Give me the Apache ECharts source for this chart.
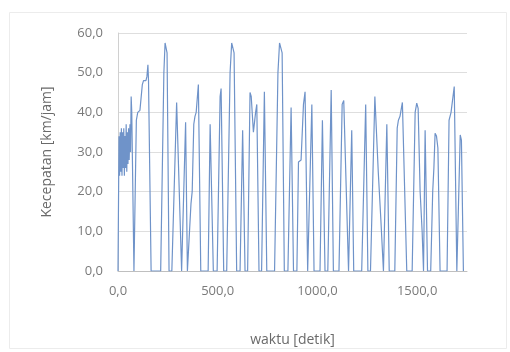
<!DOCTYPE html>
<html>
<head>
<meta charset="utf-8">
<script src="https://cdn.jsdelivr.net/npm/echarts@6/dist/echarts.min.js"></script>
<style>
  html, body { margin: 0; padding: 0; background: #fff; }
  #chart { width: 510px; height: 352px; }
</style>
</head>
<body>
<div id="chart"></div>
<script>
// waktu [detik] and kecepatan [km/jam] (key points of each trip)
const waktu = [
  0, 5, 8, 11, 14, 17, 20, 23, 26, 29, 32, 35, 38, 41, 44, 47, 50, 53, 56, 60, 63, 66, 69, 80,
  82, 92, 99, 110, 122, 128, 140, 145, 150, 153, 166,
  214, 222, 230, 236, 242, 246, 256,
  270, 294, 304, 319,
  326, 339, 348,
  356, 366, 372, 380, 386, 392, 403, 415,
  452, 462, 470, 478,
  497, 512, 517, 530,
  545, 562, 570, 578, 582, 595,
  612, 625, 637,
  650, 662, 668, 679, 690, 696, 707,
  720, 734, 746,
  785, 802, 810, 820, 823, 834,
  852, 868, 880,
  897, 905, 918, 930, 938, 951,
  960, 972, 983,
  1013, 1025, 1038,
  1052, 1069, 1080,
  1108, 1124, 1132, 1139, 1156,
  1161, 1172, 1182,
  1222, 1242, 1253,
  1266, 1288, 1305, 1318, 1331,
  1336, 1348, 1360,
  1388, 1400, 1406, 1414, 1426, 1448,
  1475, 1490, 1498, 1505, 1515, 1525, 1532,
  1533, 1540, 1552,
  1568, 1578, 1584, 1590, 1597, 1604, 1615,
  1650, 1660, 1670, 1686, 1699,
  1705, 1716, 1722, 1732
];
const kecepatan = [
  0, 34, 24, 35, 25, 36, 24, 35, 26, 36, 24, 34, 26, 37, 25, 35, 27, 36, 28, 37, 30, 44, 40, 0,
  0, 38, 40, 40.5, 47, 48, 48, 49, 52, 48, 0,
  0, 25, 50, 57.5, 57.8, 55, 0,
  0, 42.5, 42.8, 0,
  0, 37.5, 0,
  0, 17, 20, 37, 39, 40, 47, 0,
  0, 37, 37, 0,
  0, 44, 46, 0,
  0, 50, 57.5, 57.8, 55, 0,
  0, 35.5, 0,
  0, 45, 44, 35, 40, 42, 0,
  0, 45.2, 0,
  0, 50, 57.5, 57.8, 55, 0,
  0, 41.2, 0,
  0, 27.5, 28, 42, 45.2, 0,
  0, 42, 0,
  0, 38, 0,
  0, 45.6, 0,
  0, 42, 43, 42.5, 0,
  0, 35.5, 0,
  0, 42, 0,
  0, 44, 25, 13, 0,
  0, 37, 0,
  0, 36, 38, 39, 42.5, 0,
  0, 40, 42.3, 41, 20, 10, 0,
  0, 35.5, 0,
  0, 20, 26, 34.7, 34, 31, 0,
  0, 38, 40, 46.5, 0,
  0, 34.3, 33, 0
];

const fmt = (v) => v.toFixed(1).replace(".", ",");
const labelFont = { color: "#7a7a7a", fontSize: 13, fontFamily: "Open Sans" };

const chart = echarts.init(document.getElementById("chart"));

chart.setOption({
  animation: false,
  backgroundColor: "#fff",
  graphic: [
    {
      type: "rect",
      shape: { x: 9.5, y: 12.5, width: 497, height: 336 },
      style: { fill: "none", stroke: "#ececec", lineWidth: 1 },
      silent: true,
    },
  ],
  grid: { left: 118, right: 43, top: 33, bottom: 81 },
  xAxis: {
    type: "value",
    min: 0,
    max: 1750,
    interval: 500,
    name: "waktu [detik]",
    nameLocation: "middle",
    nameGap: 62,
    nameTextStyle: { color: "#6a6a6a", fontSize: 14, fontFamily: "Open Sans" },
    axisLine: { show: true, lineStyle: { color: "#bfbfbf" } },
    axisTick: { show: false },
    splitLine: { show: false },
    axisLabel: { ...labelFont, margin: 14, showMaxLabel: false, formatter: fmt },
  },
  yAxis: {
    type: "value",
    min: 0,
    max: 60,
    interval: 10,
    name: "Kecepatan [km/jam]",
    nameLocation: "middle",
    nameGap: 64,
    nameTextStyle: { color: "#6a6a6a", fontSize: 14, fontFamily: "Open Sans" },
    axisLine: { show: true, lineStyle: { color: "#d0d0d0" } },
    axisTick: { show: false },
    splitLine: { lineStyle: { color: "#dedede" } },
    axisLabel: { ...labelFont, margin: 15, formatter: fmt },
  },
  series: [
    {
      type: "line",
      data: waktu.map((t, i) => [t, kecepatan[i]]),
      showSymbol: false,
      lineStyle: { color: "#6f93c9", width: 1.2 },
    },
  ],
});
</script>
</body>
</html>
